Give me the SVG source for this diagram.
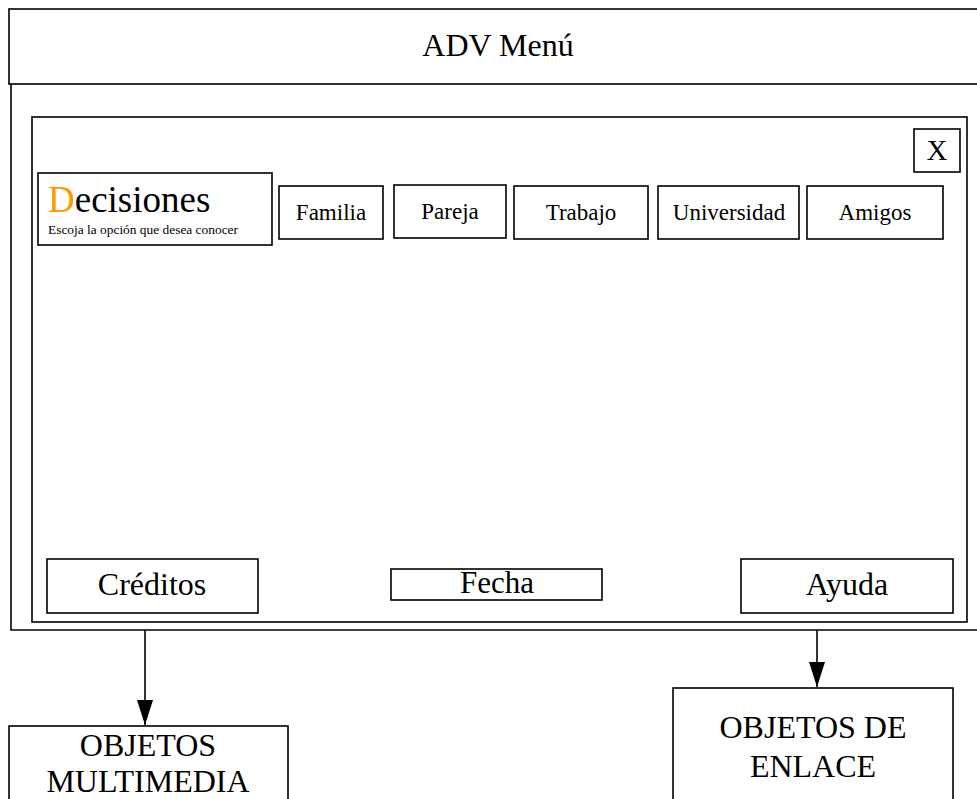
<svg xmlns="http://www.w3.org/2000/svg" width="977" height="799" viewBox="0 0 977 799">
<defs>
<style>
.b{fill:#fff;stroke:#000;stroke-width:1.6}
.t{font-family:"Liberation Serif","Times New Roman",serif;fill:#000;text-anchor:middle}
.s{font-family:"Liberation Serif","Times New Roman",serif;fill:#000;text-anchor:start}
.c{stroke:#000;stroke-width:1.6;fill:none}
</style>
<marker id="ah" viewBox="0 0 25 16" refX="25" refY="8" markerWidth="25" markerHeight="16" markerUnits="userSpaceOnUse" orient="auto">
<path d="M0,0 L25,8 L0,16 Z" fill="#000"/>
</marker>
</defs>
<rect width="977" height="799" fill="#fff"/>
<g id="header">
<rect class="b" x="9" y="9" width="975" height="75"/>
<text class="t" x="498" y="56" font-size="32">ADV Menú</text>
</g>
<g id="frame">
<path class="c" d="M11,84 L11,630 L984,630"/>
</g>
<g id="window">
<rect class="b" x="32" y="117" width="935" height="505"/>
</g>
<g id="close">
<rect class="b" x="914" y="129" width="46" height="43"/>
<text class="t" x="937" y="160" font-size="29">X</text>
</g>
<g id="decisiones">
<rect class="b" x="38" y="173" width="234" height="72"/>
<text class="s" x="48" y="212" font-size="37"><tspan fill="#FF9900">D</tspan>ecisiones</text>
<text class="s" x="48" y="234" font-size="13.4">Escoja la opción que desea conocer</text>
</g>
<g id="familia">
<rect class="b" x="279" y="186" width="104" height="53"/>
<text class="t" x="331" y="220" font-size="23">Familia</text>
</g>
<g id="pareja">
<rect class="b" x="394" y="185" width="112" height="53"/>
<text class="t" x="450" y="219" font-size="23">Pareja</text>
</g>
<g id="trabajo">
<rect class="b" x="514" y="186" width="134" height="53"/>
<text class="t" x="581" y="220" font-size="23">Trabajo</text>
</g>
<g id="universidad">
<rect class="b" x="658" y="186" width="141" height="53"/>
<text class="t" x="729" y="220" font-size="23">Universidad</text>
</g>
<g id="amigos">
<rect class="b" x="807" y="186" width="136" height="53"/>
<text class="t" x="875" y="220" font-size="23">Amigos</text>
</g>
<g id="creditos">
<rect class="b" x="47" y="559" width="211" height="54"/>
<text class="t" x="152" y="595" font-size="32">Créditos</text>
</g>
<g id="fecha">
<rect class="b" x="391" y="569" width="211" height="31"/>
<text class="t" x="497" y="593" font-size="31">Fecha</text>
</g>
<g id="ayuda">
<rect class="b" x="741" y="559" width="212" height="54"/>
<text class="t" x="847" y="595" font-size="32">Ayuda</text>
</g>
<g id="multimedia">
<rect class="b" x="9" y="726" width="279" height="90"/>
<text class="t" x="148" y="756" font-size="32">OBJETOS</text>
<text class="t" x="148" y="792" font-size="32">MULTIMEDIA</text>
</g>
<g id="enlace">
<rect class="b" x="673" y="688" width="280" height="130"/>
<text class="t" x="813" y="738" font-size="32">OBJETOS DE</text>
<text class="t" x="813" y="777" font-size="32">ENLACE</text>
</g>
<g id="connectors">
<line class="c" x1="145" y1="630" x2="145" y2="725" marker-end="url(#ah)"/>
<line class="c" x1="817" y1="630" x2="817" y2="687" marker-end="url(#ah)"/>
</g>
</svg>
